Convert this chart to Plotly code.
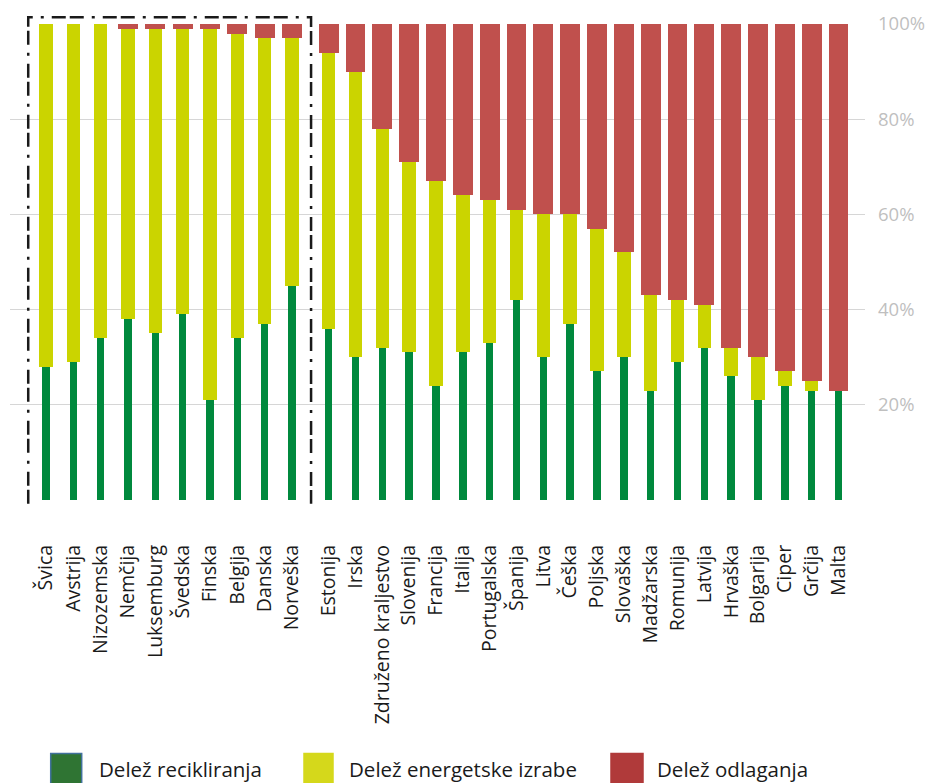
import plotly.graph_objects as go

# Countries, ordered as shown; the first ten are the framed group
countries = ["Švica", "Avstrija", "Nizozemska", "Nemčija", "Luksemburg", "Švedska",
             "Finska", "Belgija", "Danska", "Norveška", "Estonija", "Irska",
             "Združeno kraljestvo", "Slovenija", "Francija", "Italija", "Portugalska",
             "Španija", "Litva", "Češka", "Poljska", "Slovaška", "Madžarska",
             "Romunija", "Latvija", "Hrvaška", "Bolgarija", "Ciper", "Grčija", "Malta"]

# Shares of waste treatment (%)
recycling = [28, 29, 34, 38, 35, 39, 21, 34, 37, 45, 36, 30, 32, 31, 24,
             31, 33, 42, 30, 37, 27, 30, 23, 29, 32, 26, 21, 24, 23, 23]
energy = [72, 71, 66, 61, 64, 60, 78, 64, 60, 52, 58, 60, 46, 40, 43,
          33, 30, 19, 30, 23, 30, 22, 20, 13, 9, 6, 9, 3, 2, 0]
disposal = [0, 0, 0, 1, 1, 1, 1, 2, 3, 3, 6, 10, 22, 29, 33,
            36, 37, 39, 40, 40, 43, 48, 57, 58, 59, 68, 70, 73, 75, 77]

series_names = ["Delež recikliranja", "Delež energetske izrabe", "Delež odlaganja"]
y_ticks = [20, 40, 60, 80, 100]

# x positions: the framed group, a small gap, then the remaining countries
GROUP = 10
GAP = 1.343
STEP2 = 0.982
x_pos = [i if i < GROUP else (GROUP - 1) + GAP + (i - GROUP) * STEP2
         for i in range(len(countries))]

X_RANGE = [-1.317, 29.97]
Y_RANGE = [0, 100]

W, H = 926, 783
ML, MR, MT, MB = 10, 61, 24, 283
PW, PH = W - ML - MR, H - MT - MB


def px_x(px):
    return (px - ML) / PW


def px_y(py):
    return (H - MB - py) / PH


def data_x(v):
    return (v - X_RANGE[0]) / (X_RANGE[1] - X_RANGE[0])


def data_y(v):
    return (v - Y_RANGE[0]) / (Y_RANGE[1] - Y_RANGE[0])


fig = go.Figure()
fig.add_trace(go.Bar(x=x_pos, y=recycling, name=series_names[0], width=0.27,
                     marker=dict(color="#00893d", line=dict(width=0))))
fig.add_trace(go.Bar(x=x_pos, y=energy, name=series_names[1], width=0.49,
                     marker=dict(color="#cbd400", line=dict(width=0))))
fig.add_trace(go.Bar(x=x_pos, y=disposal, name=series_names[2], width=0.73,
                     marker=dict(color="#c0504d", line=dict(width=0))))

# Dash-dot frame around the first group (left, top and right sides)
fx0 = data_x(x_pos[0] - 0.65)
fx1 = data_x(x_pos[GROUP - 1] + 0.70)
fy_top, fy_bot = data_y(101.4), data_y(-0.8)
fig.add_shape(type="path",
              path=f"M {fx0} {fy_bot} L {fx0} {fy_top} L {fx1} {fy_top} L {fx1} {fy_bot}",
              xref="paper", yref="paper",
              line=dict(color="#1a1a1a", width=2.5, dash="14px,4px,14px,8px,3px,8px"))

# Custom legend at the bottom
legend_items = [
    (50.7, 81.7, "#2f7433", "#41719c", 98, series_names[0]),
    (304, 333, "#d5d81b", "#d5d81b", 348, series_names[1]),
    (611, 643, "#b03a3a", "#b03a3a", 656, series_names[2]),
]
for sx0, sx1, fill, edge, tx, label in legend_items:
    fig.add_shape(type="rect", xref="paper", yref="paper",
                  x0=px_x(sx0), x1=px_x(sx1), y0=px_y(753.5), y1=px_y(800),
                  fillcolor=fill, line=dict(color=edge, width=1.5))
    fig.add_annotation(x=px_x(tx), y=px_y(784), xref="paper", yref="paper",
                       text=label, showarrow=False, xanchor="left", yanchor="bottom",
                       borderpad=0,
                       font=dict(family="Open Sans", size=20.5, color="#1a1a1a"))

fig.update_layout(
    width=W, height=H,
    margin=dict(l=ML, r=MR, t=MT, b=MB, autoexpand=False),
    barmode="stack",
    bargap=0,
    showlegend=False,
    paper_bgcolor="white",
    plot_bgcolor="white",
    font=dict(family="Open Sans", color="#1a1a1a"),
    xaxis=dict(
        range=X_RANGE, automargin=False,
        tickmode="array", tickvals=x_pos, ticktext=countries,
        tickangle=-90, showgrid=False, zeroline=False, showline=False,
        ticks="", ticklabelstandoff=40,
        tickfont=dict(family="Open Sans", size=19.5, color="#1a1a1a"),
    ),
    yaxis=dict(
        range=Y_RANGE, side="right", automargin=False,
        tickmode="array", tickvals=y_ticks, ticktext=[f"{v}%" for v in y_ticks],
        showgrid=True, gridcolor="#d6d6d6", gridwidth=1,
        zeroline=False, showline=False, ticks="", ticklabelstandoff=12,
        tickfont=dict(family="Open Sans", size=18.5, color="#bfbfbf"),
    ),
)

fig.write_html("out.html")
